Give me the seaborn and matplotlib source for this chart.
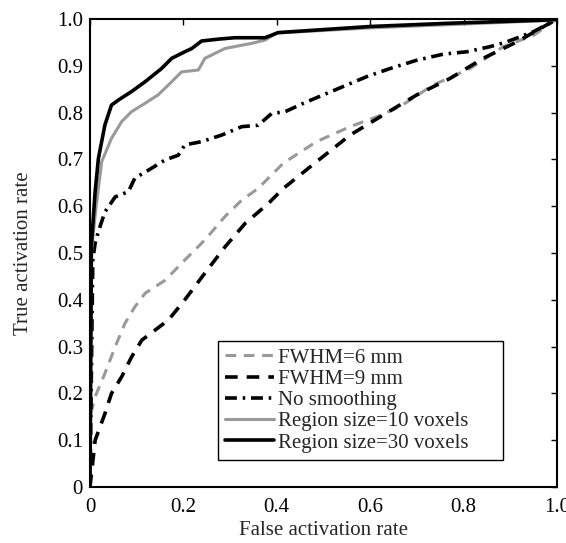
import matplotlib
matplotlib.use("Agg")
import matplotlib.pyplot as plt
import seaborn as sns
import pandas as pd

# ROC curves
fwhm6_x = [0.0, 0.0, 0.011, 0.032, 0.054, 0.075, 0.096, 0.118, 0.161, 0.203, 0.246, 0.289,
           0.325, 0.360, 0.414, 0.485, 0.557, 0.614, 0.664, 0.735, 0.814, 0.885, 0.95, 1.0]
fwhm6_y = [0.0, 0.15, 0.193, 0.243, 0.300, 0.350, 0.385, 0.414, 0.442, 0.485, 0.528, 0.578,
           0.613, 0.638, 0.692, 0.738, 0.770, 0.791, 0.813, 0.859, 0.894, 0.941, 0.965, 1.0]

fwhm9_x = [0.0, 0.004, 0.011, 0.032, 0.046, 0.068, 0.089, 0.111, 0.139, 0.168, 0.203, 0.246,
           0.289, 0.332, 0.382, 0.414, 0.485, 0.557, 0.628, 0.700, 0.771, 0.842, 0.914, 1.0]
fwhm9_y = [0.0, 0.036, 0.100, 0.157, 0.200, 0.236, 0.278, 0.314, 0.335, 0.357, 0.400, 0.457,
           0.513, 0.563, 0.606, 0.638, 0.695, 0.752, 0.795, 0.838, 0.873, 0.916, 0.951, 1.0]

nosm_x = [0.0, 0.006, 0.011, 0.018, 0.032, 0.054, 0.082, 0.096, 0.125, 0.161, 0.189, 0.203,
          0.239, 0.282, 0.325, 0.360, 0.389, 0.418, 0.457, 0.507, 0.550, 0.593, 0.642, 0.700,
          0.757, 0.807, 0.857, 0.892, 0.95, 1.0]
nosm_y = [0.0, 0.485, 0.521, 0.546, 0.588, 0.620, 0.631, 0.660, 0.677, 0.699, 0.709, 0.731,
          0.738, 0.752, 0.770, 0.773, 0.798, 0.802, 0.820, 0.841, 0.859, 0.877, 0.894, 0.912,
          0.925, 0.930, 0.941, 0.951, 0.973, 1.0]

reg10_x = [0.0, 0.003, 0.011, 0.025, 0.046, 0.068, 0.089, 0.118, 0.146, 0.175, 0.196, 0.232,
           0.246, 0.289, 0.346, 0.375, 0.40, 0.60, 0.771, 0.985, 1.0]
reg10_y = [0.0, 0.50, 0.581, 0.695, 0.745, 0.781, 0.802, 0.820, 0.838, 0.866, 0.887, 0.891,
           0.916, 0.937, 0.948, 0.955, 0.970, 0.981, 0.988, 0.997, 1.0]

reg30_x = [0.0, 0.003, 0.011, 0.018, 0.032, 0.046, 0.061, 0.089, 0.118, 0.153, 0.175, 0.203,
           0.218, 0.239, 0.275, 0.310, 0.375, 0.403, 0.60, 0.771, 0.985, 1.0]
reg30_y = [0.0, 0.517, 0.631, 0.702, 0.774, 0.816, 0.827, 0.845, 0.866, 0.894, 0.916, 0.930,
           0.937, 0.953, 0.957, 0.960, 0.960, 0.971, 0.984, 0.991, 0.998, 1.0]

labels = ["FWHM=6 mm", "FWHM=9 mm", "No smoothing", "Region size=10 voxels", "Region size=30 voxels"]
xs = [fwhm6_x, fwhm9_x, nosm_x, reg10_x, reg30_x]
ys = [fwhm6_y, fwhm9_y, nosm_y, reg10_y, reg30_y]

colors = ["#999999", "black", "black", "#999999", "black"]
styles = [(0, (3.5, 2.5)), (0, (3.5, 2.5)), (0, (3.3, 1.6, 0.7, 1.6)), "-", "-"]
widths = [2.2, 2.6, 2.6, 2.2, 2.6]

sns.set_style("white")
plt.rcParams["font.family"] = ["Liberation Serif", "DejaVu Serif"]

fig, ax = plt.subplots(figsize=(5.66, 5.43), dpi=100)
fig.subplots_adjust(left=0.159, right=0.984, top=0.965, bottom=0.103)

for lab, x, y, c, ls, lw in zip(labels, xs, ys, colors, styles, widths):
    df = pd.DataFrame({"x": x, "y": y})
    sns.lineplot(data=df, x="x", y="y", ax=ax, color=c, linestyle=ls, linewidth=lw,
                 estimator=None, sort=False, label=lab)

ax.set_xlim(0, 1)
ax.set_ylim(0, 1)
ax.set_xticks([0, 0.2, 0.4, 0.6, 0.8, 1.0])
ax.set_xticklabels(["0", "0.2", "0.4", "0.6", "0.8", "1.0"])
ax.set_yticks([i / 10 for i in range(11)])
ax.set_yticklabels(["0"] + ["0.%d" % i for i in range(1, 10)] + ["1.0"])
ax.tick_params(direction="in", length=4, width=1, top=True, right=True,
               labelsize=15, pad=5, colors="black")
ax.tick_params(axis="x", pad=8)
for s in ax.spines.values():
    s.set_color("black")
    s.set_linewidth(1.5)

ax.set_xlabel("False activation rate", fontsize=15, labelpad=3)
ax.set_ylabel("True activation rate", fontsize=15, labelpad=17)

leg = ax.legend(loc="lower left", bbox_to_anchor=(0.274, 0.058, 0.61, 0.25), mode="expand",
                fontsize=15, handlelength=2.35, labelspacing=0.08, handletextpad=0.2,
                borderpad=0.35, borderaxespad=0, fancybox=False, framealpha=1)
leg.get_frame().set_edgecolor("black")
leg.get_frame().set_linewidth(1.0)

fig.savefig("out.png", dpi=100)
